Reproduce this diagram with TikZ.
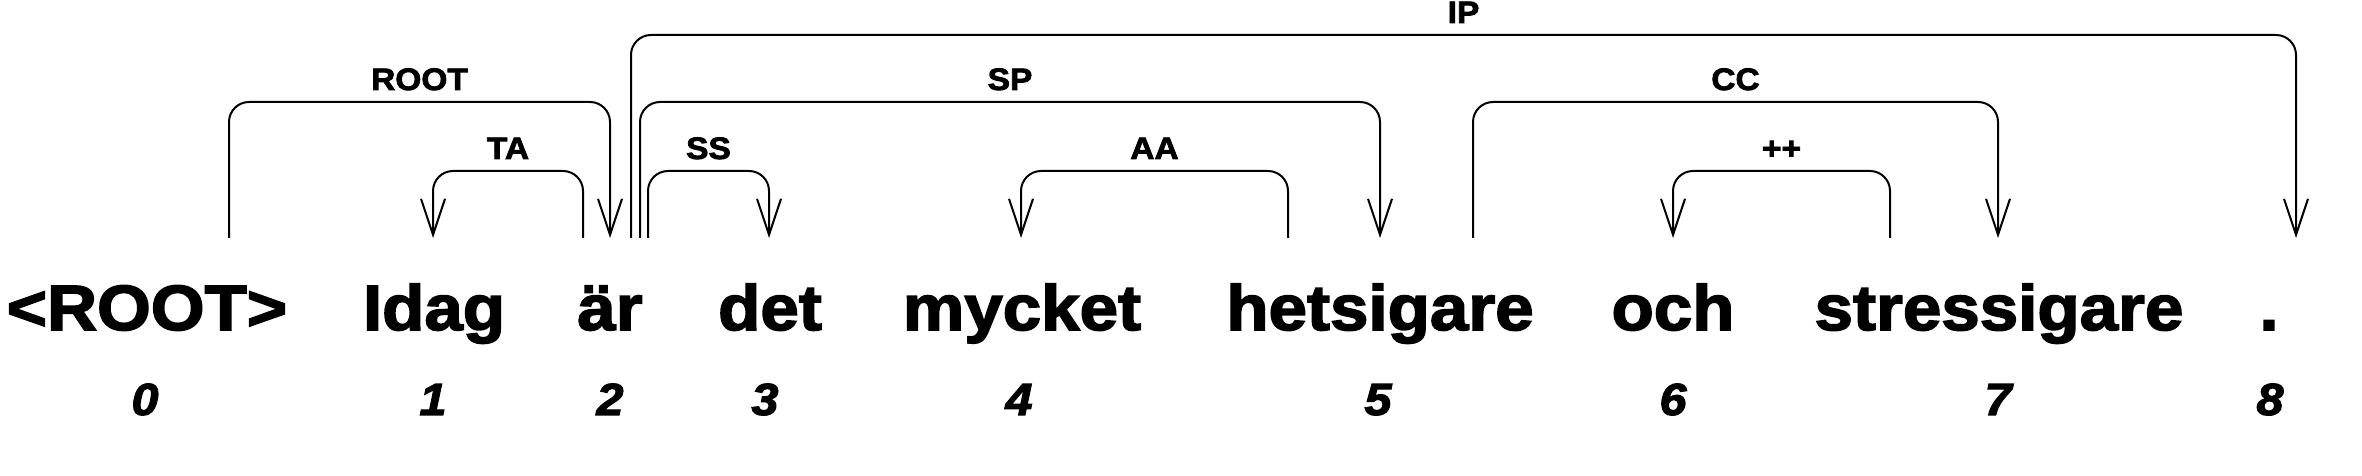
\documentclass[tikz,border=0pt]{standalone}
\usepackage{fontspec}
\setmainfont{Liberation Sans}[FakeStretch=1.08,FakeBold=2.5]
\usetikzlibrary{arrows.meta,calc}

\tikzstyle{word}=[anchor=base,inner sep=0pt,font=\fontsize{64}{64}\selectfont\bfseries]
\tikzstyle{wordidx}=[anchor=base,inner sep=0pt,font=\fontsize{45}{45}\selectfont\bfseries\itshape]
\tikzstyle{dep}=[line width=2pt,rounded corners=20pt,-{Straight Barb[length=36pt,width=24pt]}]
\tikzstyle{deplabel}=[midway,anchor=base,yshift=12pt,inner sep=0pt,font=\fontsize{31}{31}\selectfont\bfseries]

\begin{document}
\begin{tikzpicture}[x=1pt,y=1pt]
			\useasboundingbox (0,0) rectangle (2362,476);
			\node[word] (w0) at (147,146) {<ROOT>};
			\node[word] (w1) at (434,146) {Idag};
			\node[word] (w2) at (610,146) {är};
			\node[word] (w3) at (770,146) {det};
			\node[word] (w4) at (1022,146) {mycket};
			\node[word] (w5) at (1380,146) {hetsigare};
			\node[word] (w6) at (1673,146) {och};
			\node[word] (w7) at (1999,146) {stressigare};
			\node[word] (w8) at (2269,146) {.};
			\node[wordidx] (n0) at (145,61) {0};
			\node[wordidx] (n1) at (433,61) {1};
			\node[wordidx] (n2) at (610,61) {2};
			\node[wordidx] (n3) at (765,61) {3};
			\node[wordidx] (n4) at (1019,61) {4};
			\node[wordidx] (n5) at (1378,61) {5};
			\node[wordidx] (n6) at (1673,61) {6};
			\node[wordidx] (n7) at (1998,61) {7};
			\node[wordidx] (n8) at (2270,61) {8};
			\coordinate (foot) at (0,238);
			\coordinate (l1) at (0,305);
			\coordinate (l2) at (0,374);
			\coordinate (l3) at (0,441);
			% Then the arcs, head to dependent
			\foreach \src/\ds/\dst/\dd/\lv/\lab in {w0/82/w2/0/l2/ROOT, w2/-27/w1/-1/l1/TA,
				w2/38/w3/-1/l1/SS, w2/30/w5/0/l2/SP, w2/21/w8/27/l3/IP, w5/-92/w4/-1/l1/AA,
				w5/93/w7/-1/l2/CC, w7/-109/w6/0/l1/++}
				\draw[dep] ($(\src |- foot)+(\ds,0)$) -- ($(\src |- \lv)+(\ds,0)$)
					-- node[deplabel] {\lab} ($(\dst |- \lv)+(\dd,0)$) -- ($(\dst |- foot)+(\dd,0)$);
		\end{tikzpicture}
\end{document}
